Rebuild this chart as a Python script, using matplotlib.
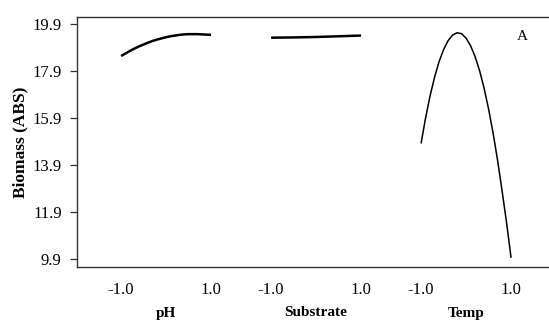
import matplotlib
matplotlib.use("Agg")
import matplotlib.pyplot as plt
import matplotlib.transforms as mtransforms

plt.rcParams['font.family'] = ['Liberation Serif', 'DejaVu Serif']

# Data (coded factor levels -1..1)
factors = ["pH", "Substrate", "Temp"]
x_ph = [-1.0, -0.9, -0.8, -0.7, -0.6, -0.5, -0.4, -0.3, -0.2, -0.1, 0.0,
        0.1, 0.2, 0.3, 0.4, 0.5, 0.6, 0.7, 0.8, 0.9, 1.0]
y_ph = [18.54, 18.65, 18.76, 18.86, 18.95, 19.03, 19.11, 19.18, 19.24, 19.29, 19.34,
        19.38, 19.41, 19.44, 19.46, 19.47, 19.47, 19.47, 19.46, 19.45, 19.44]
x_sub = [-1.0, -0.5, 0.0, 0.5, 1.0]
y_sub = [19.32, 19.33, 19.35, 19.38, 19.41]
x_temp = [-1.0, -0.9, -0.8, -0.7, -0.6, -0.5, -0.4, -0.3, -0.2, -0.1, 0.0,
          0.1, 0.2, 0.3, 0.4, 0.5, 0.6, 0.7, 0.8, 0.9, 1.0]
y_temp = [14.82, 15.90, 16.84, 17.64, 18.30, 18.81, 19.19, 19.43, 19.53, 19.49, 19.30,
          18.98, 18.52, 17.92, 17.18, 16.29, 15.27, 14.11, 12.81, 11.45, 9.95]
y_ticks = [9.9, 11.9, 13.9, 15.9, 17.9, 19.9]
x_tick_vals = [-1.0, 1.0]
x_tick_labels = ["-1.0", "1.0"]
panel_label = "A"
y_label = "Biomass (ABS)"

W, H = 549, 320
fig = plt.figure(figsize=(W / 100, H / 100), dpi=100)
ax = fig.add_axes([77 / W, (H - 267) / H, (W - 77) / W, (267 - 17) / H])

offset_step = 150 / 45
series = [(x_ph, y_ph, 1.8), (x_sub, y_sub, 1.8), (x_temp, y_temp, 1.1)]
ticks_pos, ticks_lab = [], []
for i, (xs, ys, lw) in enumerate(series):
    off = i * offset_step
    ax.plot([x + off for x in xs], ys, color='black', lw=lw, solid_capstyle='butt')
    for v, l in zip(x_tick_vals, x_tick_labels):
        ticks_pos.append(v + off)
        ticks_lab.append(l)

ax.set_xlim(-1.98, 8.51)
ax.set_ylim(9.56, 20.2)
ax.set_yticks(y_ticks)
ax.set_yticklabels([f"{v:.1f}" for v in y_ticks])
ax.set_xticks(ticks_pos)
ax.set_xticklabels(ticks_lab)
ax.tick_params(axis='x', length=0, pad=11, labelsize=12, colors='black')
ax.tick_params(axis='y', length=5, width=0.9, pad=6, labelsize=12, color='#333333')

for s in ['left', 'top', 'bottom']:
    ax.spines[s].set_color('#333333')
    ax.spines[s].set_linewidth(1.0)
ax.spines['right'].set_visible(False)

trans = mtransforms.blended_transform_factory(ax.transData, ax.transAxes)
for i, name in enumerate(factors):
    ax.text(i * offset_step, -0.184, name, transform=trans, ha='center', va='center',
            fontsize=11, fontweight='bold')

ax.text(522, 320 - 37, panel_label, transform=None, ha='center', va='center', fontsize=11)
fig.text(20 / W, (H - 142) / H, y_label, rotation=90, ha='center', va='center',
         fontsize=12.5, fontweight='bold')

fig.savefig("out.png", dpi=100)
